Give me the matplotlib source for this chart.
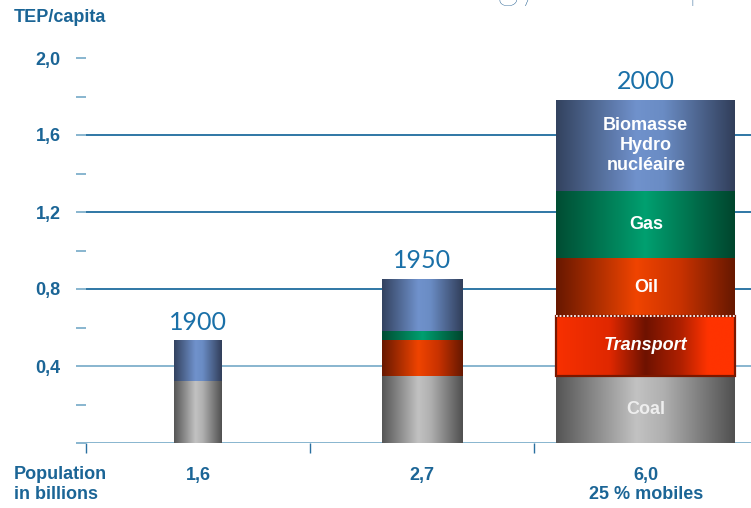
import matplotlib
matplotlib.use('Agg')
import matplotlib.pyplot as plt
import numpy as np
from matplotlib.colors import LinearSegmentedColormap

# ---- data ----
years = ['1900', '1950', '2000']
population = [1.6, 2.7, 6.0]
pop_labels = ['1,6', '2,7', '6,0\n25 % mobiles']
coal = [0.32, 0.35, 0.35]
transport = [0.0, 0.0, 0.31]
oil = [0.0, 0.185, 0.30]
gas = [0.0, 0.045, 0.35]
bio = [0.21, 0.27, 0.47]
series_names = ['Coal', 'Transport', 'Oil', 'Gas', 'Biomasse\nHydro\nnucléaire']
y_ticks = [0.4, 0.8, 1.2, 1.6, 2.0]
y_ticklabels = ['0,4', '0,8', '1,2', '1,6', '2,0']

plt.rcParams['font.family'] = ['Liberation Sans', 'DejaVu Sans']

BLUE_TXT = '#1b6596'
fig = plt.figure(figsize=(7.51, 5.08), dpi=100)
ax = fig.add_axes([86/751, 65/508, 665/751, 385/508])

x = np.arange(len(years))
widths = [p * 0.133 for p in population]

cmaps = {
    'Coal': [(0, '#555555'), (0.45, '#c2c2c2'), (0.6, '#b0b0b0'), (1, '#505050')],
    'Transport': [(0, '#f83000'), (0.3, '#e02800'), (0.5, '#6e1200'), (0.7, '#b02000'), (0.85, '#ff3300'), (1, '#ff3300')],
    'Oil': [(0, '#681800'), (0.45, '#f04400'), (0.7, '#c83200'), (1, '#661800')],
    'Gas': [(0, '#004d33'), (0.5, '#00a070'), (1, '#00452d')],
    'Biomasse\nHydro\nnucléaire': [(0, '#33425f'), (0.45, '#7092cc'), (0.6, '#6a8cc4'), (1, '#313e5a')],
}
text_styles = {
    'Coal': dict(color='#eeeeee'),
    'Transport': dict(color='white', style='italic'),
    'Oil': dict(color='white'),
    'Gas': dict(color='white'),
    'Biomasse\nHydro\nnucléaire': dict(color='white'),
}

grad = np.linspace(0, 1, 256).reshape(1, -1)
bottoms = np.zeros(len(years))
for name, vals in zip(series_names, [coal, transport, oil, gas, bio]):
    cm = LinearSegmentedColormap.from_list(name, cmaps[name])
    bars = ax.bar(x, vals, width=widths, bottom=bottoms, color='none',
                  edgecolor='none', zorder=3)
    for i, (rect, v) in enumerate(zip(bars, vals)):
        if v <= 0:
            continue
        x0, y0, w, h = rect.get_x(), rect.get_y(), rect.get_width(), rect.get_height()
        ax.imshow(grad, cmap=cm, extent=[x0, x0 + w, y0, y0 + h], aspect='auto',
                  interpolation='bicubic', zorder=2.5)
        if name == 'Transport':
            rect.set_edgecolor('#7a1800')
            rect.set_linewidth(1.6)
            ax.plot([x0, x0 + w], [y0 + h, y0 + h], color='white',
                    ls=(0, (1, 1)), lw=1.3, zorder=4)
        if i == len(years) - 1:
            ax.text(x0 + w / 2, y0 + h / 2, name, ha='center', va='center',
                    fontsize=13, fontweight='bold', linespacing=1.25,
                    zorder=5, **text_styles[name])
    bottoms = bottoms + np.array(vals)

for xi, tot, yr in zip(x, bottoms, years):
    ax.annotate(yr, (xi, tot), xytext=(0, 5), textcoords='offset points',
                ha='center', va='bottom', fontsize=18, color='#1a70a8',
                family=['Lato', 'DejaVu Sans'], fontweight='normal')

ax.set_xlim(-0.5, 2.47)
ax.set_ylim(0, 2.0)

# gridlines
for yv in [0.0] + y_ticks[:-1]:
    col = '#7fb0cc' if yv < 0.6 else '#1f6c9e'
    ax.axhline(yv, color=col, lw=1.3, zorder=1)

for s in ax.spines.values():
    s.set_visible(False)

ax.set_yticks(y_ticks)
ax.set_yticklabels(y_ticklabels)
ax.set_yticks([0.0, 0.2, 0.6, 1.0, 1.4, 1.8], minor=True)
ax.tick_params(axis='y', which='both', length=7.2, width=1.3, color='#7fb0cc',
               direction='out', pad=11, labelsize=13, labelcolor=BLUE_TXT)
for lab in ax.get_yticklabels():
    lab.set_fontweight('bold')

ax.set_xticks(x)
ax.set_xticklabels(pop_labels, fontsize=13, fontweight='bold', color=BLUE_TXT,
                   linespacing=1.2, va='top')
ax.set_xticks([-0.5, 0.5, 1.5], minor=True)
ax.tick_params(axis='x', which='major', length=0, pad=17)
ax.tick_params(axis='x', which='minor', length=7.2, width=1.0, color='#2a70a0',
               direction='out')

fig.text(14/751, 1 - 18/508, 'TEP/capita', fontsize=13, fontweight='bold',
         color=BLUE_TXT, ha='left', va='center')
fig.text(14/751, 1 - 466/508, 'Population\nin billions', fontsize=13,
         fontweight='bold', color=BLUE_TXT, ha='left', va='top', linespacing=1.2)

# cropped title at very top
fig.text(79/751, 1 + 2/508, 'Evolution of world energy consumption', fontsize=30,
         color='#235f90', family=['Lato', 'DejaVu Sans'], fontweight='light',
         ha='left', va='baseline')

fig.savefig('out.png', dpi=100)
